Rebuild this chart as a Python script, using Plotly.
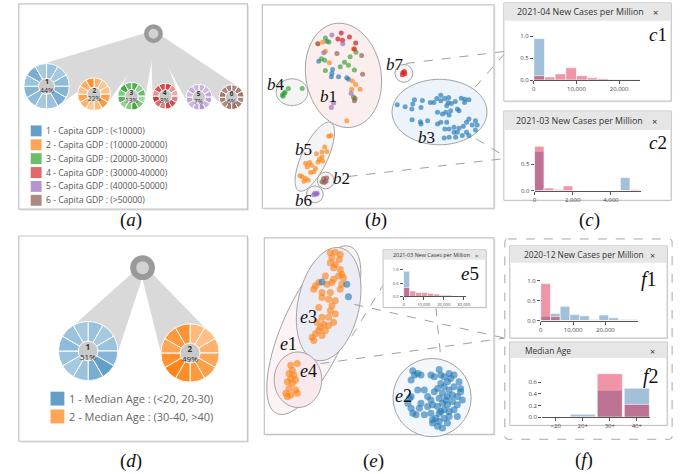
import math
import plotly.graph_objects as go

W, H = 689, 474

# ====================== DATA ======================
# (a) capita GDP clusters
gdp_groups = ["1", "2", "3", "4", "5", "6"]
gdp_share = [44, 22, 13, 8, 7, 6]
gdp_legend = ["1 - Capita GDP : (<10000)", "2 - Capita GDP : (10000-20000)",
              "3 - Capita GDP : (20000-30000)", "4 - Capita GDP : (30000-40000)",
              "5 - Capita GDP : (40000-50000)", "6 - Capita GDP : (>50000)"]
# (d) median age clusters
age_groups = ["1", "2"]
age_share = [51, 49]
age_legend = ["1 - Median Age : (<20, 20-30)", "2 - Median Age : (30-40, >40)"]

# (c1) histogram
c1_title = "2021-04 New Cases per Million"
c1_bin_width = 2500
c1_bin_starts = [0, 2500, 5000, 7500, 10000, 12500, 15000, 17500, 20000, 22500]
c1_blue = [0.95, 0.01, 0, 0, 0, 0, 0, 0, 0, 0]
c1_pink = [0.10, 0.07, 0.14, 0.28, 0.10, 0.05, 0.03, 0.01, 0.01, 0.01]
c1_xticks = [0, 10000, 20000]
c1_yticks = [0.0, 0.5, 1.0]

# (c2) histogram
c2_title = "2021-03 New Cases per Million"
c2_bin_width = 500
c2_bin_starts = [0, 500, 1000, 1500, 2000, 2500, 3000, 3500, 4000, 4500, 5000]
c2_blue = [0.74, 0, 0, 0, 0, 0, 0, 0, 0, 0.25, 0]
c2_pink = [0.84, 0.05, 0.02, 0.09, 0, 0, 0, 0, 0, 0, 0.02]
c2_xticks = [0, 2000, 4000]
c2_yticks = [0.0, 0.5]

# (e5) inset histogram
e5_title = "2021-03 New Cases per Million"
e5_bin_width = 3000
e5_bin_starts = [0, 3000, 6000, 9000, 12000, 15000, 18000, 21000, 24000, 27000]
e5_blue = [0.95, 0, 0, 0, 0, 0, 0, 0, 0, 0]
e5_pink = [0.34, 0.21, 0.15, 0.15, 0.12, 0.09, 0.05, 0.05, 0.02, 0.02]
e5_xticks = [0, 10000, 20000, 30000]
e5_yticks = [0.0, 0.5, 1.0]

# (f1) histogram
f1_title = "2020-12 New Cases per Million"
f1_bin_width = 3000
f1_bin_starts = [0, 3000, 6000, 9000, 12000, 15000, 18000, 21000, 24000, 27000]
f1_blue = [0.10, 0.18, 0.36, 0.15, 0.12, 0.03, 0.14, 0.07, 0.03, 0.03]
f1_pink = [0.93, 0.10, 0, 0, 0, 0, 0, 0, 0, 0]
f1_xticks = [0, 10000, 20000]
f1_yticks = [0.0, 0.5, 1.0]

# (f2) median age histogram
f2_title = "Median Age"
f2_categories = ["<20", "20+", "30+", "40+"]
f2_blue = [0, 0.05, 0.46, 0.50]
f2_pink = [0, 0, 0.75, 0.22]
f2_yticks = [0.0, 0.2, 0.4, 0.6]

# (b) embedding points (projection coordinates)
b_red = [(342.7, 33.3), (351.0, 37.3), (339.3, 39.3), (344.0, 40.7), (357.3, 43.3), (356.0, 49.3),
         (405.0, 73.0), (407.0, 74.5), (404.5, 75.5), (406.5, 72.0)]
b_purple = [(333.3, 35.3), (344.3, 44.0), (325.0, 53.3), (352.7, 94.0), (335.0, 104.0), (332.7, 108.3),
            (316.0, 195.0), (317.7, 196.0), (315.0, 196.3), (318.5, 195.0)]
b_green = [(326.7, 38.3), (330.3, 42.3), (357.7, 52.7), (351.7, 57.3), (322.7, 59.3), (326.0, 60.7),
           (346.0, 62.7), (350.0, 65.7), (341.7, 67.3), (326.7, 71.0), (356.0, 70.7), (355.0, 97.7),
           (283.3, 95.7), (285.0, 94.0), (286.0, 93.0), (289.3, 89.3), (303.3, 89.3), (284.0, 97.0)]
b_orange = [(324.0, 42.7), (319.3, 44.0), (326.7, 51.7), (330.7, 63.3), (354.0, 81.7), (357.3, 85.3),
            (353.3, 90.0), (361.7, 90.0), (348.3, 121.7), (355.0, 49.3),
            (330.0, 137.3), (332.3, 136.7), (326.0, 148.3), (328.3, 152.7), (323.3, 153.3),
            (317.7, 155.0), (320.7, 160.7), (324.0, 162.7), (319.3, 163.3), (306.7, 165.0),
            (310.7, 164.0), (312.7, 166.7), (308.3, 168.3), (315.0, 173.3), (311.7, 174.0),
            (303.3, 178.3), (306.7, 180.0), (305.0, 182.7), (301.0, 177.3), (309.3, 181.7),
            (316.7, 170.0), (323.3, 158.3)]
b_brown = [(319.0, 44.0), (338.3, 54.0), (363.3, 56.0), (364.3, 75.0), (356.7, 99.3), (356.0, 101.7),
           (325.0, 180.0), (327.3, 182.7), (323.3, 183.3), (328.0, 179.5), (325.5, 184.0)]
b_blue = [(328.3, 41.7), (320.0, 61.7), (334.0, 70.0), (333.3, 74.0), (332.7, 77.3), (340.0, 77.3),
          (348.3, 78.3), (350.0, 80.0),
          (399.3, 105.7), (407.3, 107.7), (415.0, 105.0), (416.7, 100.7), (424.7, 101.3), (414.0, 110.0),
          (423.3, 108.3), (432.7, 103.3), (436.3, 103.3), (439.3, 99.3), (443.3, 96.0), (447.3, 99.3),
          (451.3, 98.3), (443.3, 101.7), (450.7, 103.3), (449.3, 106.7), (454.0, 104.3), (458.0, 102.3),
          (464.0, 99.0), (467.7, 100.0), (471.7, 100.7), (467.3, 103.3), (460.0, 110.0), (440.0, 113.3),
          (445.0, 115.0), (448.3, 113.3), (451.7, 116.0), (453.3, 111.7), (461.7, 111.7), (414.3, 120.7),
          (422.7, 122.7), (430.0, 121.7), (423.3, 125.0), (443.3, 123.3), (449.3, 123.3), (447.3, 130.0),
          (451.7, 130.0), (456.7, 128.3), (456.7, 133.3), (461.7, 129.3), (466.0, 127.3), (469.3, 123.3),
          (471.7, 120.0), (475.0, 126.0), (478.3, 121.7), (480.0, 126.0), (478.3, 131.0), (469.3, 133.3),
          (465.0, 136.7), (458.3, 138.3), (451.7, 138.3), (446.7, 139.3), (440.0, 125.0), (471.7, 136.7),
          (460.0, 133.3)]

# (e) embedding points
e_orange = [(331.7, 255.0), (336.7, 254.3), (341.7, 256.7), (333.3, 260.0), (340.7, 261.7), (331.7, 265.0),
            (336.7, 266.7), (335.0, 270.0), (341.7, 271.7), (343.3, 276.7), (345.0, 280.0), (340.0, 278.3),
            (326.7, 278.3), (335.0, 281.7), (333.3, 285.0), (328.3, 286.7), (316.7, 288.3), (320.0, 285.0),
            (315.0, 291.7), (323.3, 295.0), (331.7, 295.0), (341.7, 291.7), (343.3, 286.7), (323.3, 300.0),
            (330.0, 301.7), (336.7, 303.3), (333.3, 308.3), (320.0, 310.0), (331.7, 313.3), (336.7, 316.7),
            (323.3, 320.0), (330.0, 320.0), (318.3, 325.0), (325.0, 326.7), (321.7, 330.0), (330.0, 328.3),
            (335.0, 325.0), (320.0, 333.3), (326.7, 333.3), (316.7, 336.7), (313.3, 340.0), (323.3, 338.3),
            (315.0, 343.3),
            (291.7, 368.3), (298.3, 366.7), (293.3, 373.3), (290.0, 376.7), (295.0, 378.3), (291.7, 381.7),
            (296.7, 383.3), (288.3, 385.0), (293.3, 386.7), (290.0, 391.7), (296.7, 393.3), (286.7, 396.7),
            (291.7, 398.3), (298.3, 396.7), (288.3, 400.0)]
e_blue = [(323.3, 284.3), (348.3, 286.7), (350.0, 299.3),
          (415.0, 374.0), (416.7, 378.3), (420.0, 376.7), (423.3, 378.3), (413.3, 383.3), (433.3, 378.3),
          (436.7, 380.0), (441.7, 372.7), (443.3, 378.3), (446.7, 380.0), (451.7, 376.7), (453.3, 381.7),
          (456.7, 378.3), (450.0, 385.0), (443.3, 386.7), (440.0, 391.7), (446.7, 390.0), (451.7, 393.3),
          (456.7, 390.0), (461.7, 385.0), (463.3, 395.0), (460.0, 400.0), (455.0, 398.3), (450.0, 400.0),
          (445.0, 396.7), (441.7, 401.7), (436.7, 395.0), (433.3, 403.3), (430.0, 400.0), (426.7, 393.3),
          (420.0, 393.3), (411.7, 401.7), (410.0, 406.7), (413.3, 411.7), (415.0, 416.7), (418.3, 418.3),
          (421.7, 411.7), (423.3, 406.7), (430.0, 410.0), (435.0, 408.3), (440.0, 410.0), (445.0, 406.7),
          (450.0, 408.3), (455.0, 405.0), (460.0, 408.3), (465.0, 403.3), (456.7, 413.3), (451.7, 415.0),
          (446.7, 413.3), (441.7, 416.7), (438.3, 421.7), (435.0, 423.3), (441.7, 425.0), (446.7, 421.7),
          (450.0, 426.7), (445.0, 431.7), (440.0, 430.0), (435.0, 426.7), (413.3, 400.0), (463.3, 391.7),
          (448.3, 403.3), (443.3, 415.0), (433.3, 416.7), (426.7, 418.3), (460.0, 420.0), (451.7, 420.0)]

# ====================== STYLE ======================
UI = "Open Sans"
SERIF = "Liberation Serif"
CAT = [(31, 119, 180), (255, 127, 14), (44, 160, 44), (214, 39, 40), (148, 103, 189), (140, 86, 75)]
BLUE_BAR = "rgba(70,130,180,0.5)"
PINK_BAR = "rgba(220,20,60,0.45)"

A_SHADES = [
    [0.45, 0.40, 0.50, 0.55, 0.60, 0.45, 0.40, 0.50, 0.55, 0.45, 0.60, 0.40],
    [0.60, 0.45, 0.50, 0.75, 0.80, 0.55, 0.45, 0.60, 0.70, 0.50, 0.65, 0.85],
    [0.85, 0.50, 0.70, 0.45, 0.60, 0.90, 0.55, 0.50, 0.80, 0.60, 0.90, 0.70],
    [0.90, 0.50, 0.40, 0.60, 0.85, 0.90, 0.60, 0.70, 0.95, 0.50, 0.80, 0.85],
    [0.50, 0.45, 0.55, 0.60, 0.50, 0.70, 0.55, 0.50, 0.60, 0.45, 0.55, 0.50],
    [0.70, 0.75, 0.80, 0.70, 0.75, 0.85, 0.80, 0.70, 0.75, 0.80, 0.70, 0.75],
]
D_SHADES = [
    [0.45, 0.40, 0.45, 0.55, 0.70, 0.60, 0.45, 0.40, 0.45, 0.50, 0.45, 0.40],
    [0.55, 0.50, 0.60, 0.70, 0.75, 0.80, 0.90, 0.95, 0.85, 0.70, 0.80, 0.85],
]
# layout geometry (pixels)
A_ROOT = (153, 34)
A_PIES = [(45, 87, 23, 0.35), (93, 95, 16.5, 0.42), (131, 97, 14, 0.48),
          (165, 97, 13, 0.5), (199, 98, 13, 0.5), (232, 98, 12.5, 0.5)]
D_ROOT = (142, 270)
D_PIES = [(87, 354, 30, 0.33), (190, 356, 29.5, 0.34)]


def blend(rgb, a):
    return "rgb(%d,%d,%d)" % tuple(round(255 - a * (255 - c)) for c in rgb)


def rgba(rgb, a):
    return "rgba(%d,%d,%d,%s)" % (rgb[0], rgb[1], rgb[2], a)


fig = go.Figure()
shapes = []
annos = []


def rect(x0, y0, x1, y1, fill, line="rgba(0,0,0,0)", lw=1, dash=None):
    shapes.append(dict(type="rect", xref="x", yref="y", x0=x0, y0=y0, x1=x1, y1=y1,
                       fillcolor=fill, line=dict(color=line, width=lw, dash=dash), layer="below"))


def circ(cx, cy, r, fill, line="rgba(0,0,0,0)", lw=1):
    shapes.append(dict(type="circle", xref="x", yref="y", x0=cx - r, y0=cy - r, x1=cx + r, y1=cy + r,
                       fillcolor=fill, line=dict(color=line, width=lw), layer="below"))


def poly(pts, fill, line="rgba(0,0,0,0)", lw=1):
    p = "M " + " L ".join("%.2f,%.2f" % q for q in pts) + " Z"
    shapes.append(dict(type="path", xref="x", yref="y", path=p, fillcolor=fill,
                       line=dict(color=line, width=lw), layer="below"))


def ellipse(cx, cy, a, b, ang, fill, line="#a3a3a3"):
    t = math.radians(ang)
    pts = []
    for i in range(72):
        u = 2 * math.pi * i / 72
        x = cx + a * math.cos(u) * math.cos(t) - b * math.sin(u) * math.sin(t)
        y = cy + a * math.cos(u) * math.sin(t) + b * math.sin(u) * math.cos(t)
        pts.append((x, y))
    poly(pts, fill, line, 1)


def dline(x0, y0, x1, y1):
    shapes.append(dict(type="line", xref="x", yref="y", x0=x0, y0=y0, x1=x1, y1=y1,
                       line=dict(color="#a0a0a0", width=1, dash="dash"), layer="below"))


def txt(x, y, s, size, color="#333", family=UI, xanchor="center", yanchor="middle"):
    annos.append(dict(x=x, y=y, xref="x", yref="y", text=s, showarrow=False,
                      font=dict(size=size, color=color, family=family),
                      xanchor=xanchor, yanchor=yanchor, borderpad=0))


def label(x, y, letter, num, size):
    txt(x, y, "<i>%s</i>%s" % (letter, num), size, "#111", SERIF)


def frame(x0, y0, x1, y1):
    rect(x0 + 1.5, y0 + 1.5, x1 + 1.5, y1 + 1.5, "#e6e6e6")
    rect(x0, y0, x1, y1, "white", "#c4c4c4", 1.2)


def hist_box(x0, y0, x1, y1, ybar, title, tsize, title_x, close_x):
    rect(x0 + 1, y0 + 1, x1 + 1, y1 + 1, "#e9e9e9")
    rect(x0, y0, x1, y1, "white", "#bdbdbd", 1)
    rect(x0 + 0.6, y0 + 0.6, x1 - 0.6, ybar, "#e6e6e6")
    txt(title_x, (y0 + ybar) / 2, title, tsize, "#333", UI, xanchor="left")
    txt(close_x, (y0 + ybar) / 2 + 1, "×", tsize + 0.5, "#333")


# ---------- panel frames ----------
frame(17, 4, 248, 211)
frame(263, 5, 497, 210)
frame(17, 238, 248, 445)
frame(265, 240, 497, 438)
shapes.append(dict(type="path", xref="x", yref="y",
                   path="M 511,241 L 674,241 Q 677,241 677,244 L 677,440 Q 677,443 674,443 "
                        "L 511,443 Q 508,443 508,440 L 508,244 Q 508,241 511,241 Z",
                   fillcolor="white", line=dict(color="#a8a8a8", width=1, dash="dash"), layer="below"))

# ---------- histogram boxes ----------
hist_box(507, 3, 676, 102, 21, c1_title, 8.9, 519, 660)
hist_box(507, 112, 676, 202, 131, c2_title, 8.9, 518, 659)
hist_box(513, 248, 672, 341, 265, f1_title, 8.4, 526, 657)
hist_box(513, 345, 672, 429, 361, f2_title, 8.4, 527, 657)

# ---------- panel (b) clusters ----------
ellipse(345, 76, 53, 38, 80, "#fbeeee")
ellipse(293, 93, 16, 13.5, 0, "#f4f4f4")
ellipse(442, 113, 48, 33, 0, "#edf3fb")
ellipse(316, 158, 38, 13, -65, "#f4f4f4")
circ(406, 74, 9, "#f6f6f6", "#a3a3a3")
circ(327, 182, 8.5, "#f6f0f0", "#a3a3a3")
circ(316, 196, 8.5, "#f4f4f4", "#a3a3a3")
dline(408, 64, 507, 52)
dline(478, 88, 507, 55)
dline(350, 178, 507, 160)
dline(479, 140, 507, 157)

# ---------- panel (e) clusters ----------
ellipse(315, 333, 92, 32, -66, "#fcf4f4")
ellipse(330, 306.7, 58, 31, -78, "#ececf5")
ellipse(299, 383, 28, 24, -90, "#f9e8ec")
circ(434.5, 401, 39.5, "#f2f7fc", "#a3a3a3")
dline(356, 307, 508, 341)
dline(321.7, 366.7, 508, 341)
dline(386.7, 285, 351.7, 341.7)
dline(438.3, 310, 443.3, 361)
hist_box(385, 252, 489, 310, 262, e5_title, 5.4, 394, 479)

# ---------- sunburst-like rings (a), (d) ----------
def beams(root, pies):
    rx, ry = root
    for (cx, cy, r, hole) in pies:
        dx, dy = cx - rx, cy - ry
        L = math.hypot(dx, dy)
        nx, ny = -dy / L, dx / L
        poly([(rx + nx * 3, ry + ny * 3), (cx + nx * r, cy + ny * r),
              (cx - nx * r, cy - ny * r), (rx - nx * 3, ry - ny * 3)], "#d9d9d9")


beams(A_ROOT, A_PIES)
beams(D_ROOT, D_PIES)
circ(A_ROOT[0], A_ROOT[1], 9.5, "#9a9a9a")
circ(A_ROOT[0], A_ROOT[1], 5, "#d2d2d2")
circ(D_ROOT[0], D_ROOT[1], 12.5, "#9a9a9a")
circ(D_ROOT[0], D_ROOT[1], 6.5, "#d2d2d2")


def add_ring(cx, cy, r, hole, rgb, shades, name, share, fs):
    circ(cx, cy, r * hole + 0.5, "#c9c9c9")
    fig.add_trace(go.Pie(values=[1] * len(shades), sort=False, direction="clockwise", rotation=0,
                         hole=hole, textinfo="none", hoverinfo="skip", showlegend=False,
                         marker=dict(colors=[blend(rgb, s) for s in shades],
                                     line=dict(color="white", width=1)),
                         domain=dict(x=[(cx - r) / W, (cx + r) / W],
                                     y=[1 - (cy + r) / H, 1 - (cy - r) / H])))
    txt(cx, cy, "<b>%s</b><br>%d%%" % (name, share), fs, "#333")


for i, (cx, cy, r, hole) in enumerate(A_PIES):
    add_ring(cx, cy, r, hole, CAT[i], A_SHADES[i], gdp_groups[i], gdp_share[i], 6.5 if i else 7)
for i, (cx, cy, r, hole) in enumerate(D_PIES):
    add_ring(cx, cy, r, hole, CAT[i], D_SHADES[i], age_groups[i], age_share[i], 8)

# legends
for i, s in enumerate(gdp_legend):
    y = 132 + 14 * i
    rect(29, y - 5.5, 40, y + 5.5, blend(CAT[i], 0.7))
    txt(43.5, y, s, 8.6, "#555", UI, xanchor="left")
for i, s in enumerate(age_legend):
    y = 402 + 18 * i
    rect(49, y - 7, 63, y + 7, blend(CAT[i], 0.7))
    txt(67, y, s, 11, "#666", UI, xanchor="left")

# ---------- scatter points ----------
def pts(group, rgb, size, alpha):
    fig.add_trace(go.Scatter(x=[p[0] for p in group], y=[p[1] for p in group], mode="markers",
                             marker=dict(size=size, color=rgba(rgb, alpha), line=dict(width=0)),
                             hoverinfo="skip", showlegend=False, xaxis="x", yaxis="y"))


pts(b_blue, CAT[0], 5, 0.65)
pts(b_orange, CAT[1], 5, 0.65)
pts(b_green, CAT[2], 5, 0.65)
pts(b_red, CAT[3], 5, 0.75)
pts(b_purple, CAT[4], 5, 0.65)
pts(b_brown, CAT[5], 5, 0.65)
pts(e_orange, CAT[1], 7, 0.6)
pts(e_blue, CAT[0], 7, 0.6)

# ---------- histograms ----------
layout_axes = {}


def add_hist(idx, xpx, ypx, xr, yr, xs, width, blue, pink, xticks, yticks, fs,
             ticktext=None):
    xa, ya = "x%d" % idx, "y%d" % idx
    fig.add_trace(go.Bar(x=xs, y=blue, width=width, xaxis=xa, yaxis=ya, hoverinfo="skip",
                         showlegend=False, marker=dict(color=BLUE_BAR, line=dict(color="white", width=0.6))))
    fig.add_trace(go.Bar(x=xs, y=pink, width=width, xaxis=xa, yaxis=ya, hoverinfo="skip",
                         showlegend=False, marker=dict(color=PINK_BAR, line=dict(color="white", width=0.6))))
    xd = dict(domain=[xpx[0] / W, xpx[1] / W], range=xr, anchor=ya, showgrid=False, zeroline=False,
              showline=True, linecolor="#555", linewidth=1, ticks="outside", ticklen=3,
              tickcolor="#555", tickvals=xticks, tickfont=dict(size=fs, color="#444", family=UI),
              fixedrange=True, tickformat=",d")
    if ticktext is not None:
        xd["ticktext"] = ticktext
    yd = dict(domain=[1 - ypx[1] / H, 1 - ypx[0] / H], range=yr, anchor=xa, showgrid=False,
              zeroline=False, showline=False, ticks="outside", ticklen=3, tickcolor="#555",
              tickvals=yticks, tickformat=".1f", tickfont=dict(size=fs, color="#444", family=UI),
              fixedrange=True)
    layout_axes["xaxis%d" % idx] = xd
    layout_axes["yaxis%d" % idx] = yd


def centers(starts, w):
    return [s + w / 2 for s in starts]


add_hist(2, (537.3, 645), (25, 80.7), [0, 25000], [0, 1.266],
         centers(c1_bin_starts, c1_bin_width), c1_bin_width, c1_blue, c1_pink, c1_xticks, c1_yticks, 6)
add_hist(3, (538, 646), (137, 192.3), [0, 5600], [0, 1.037],
         centers(c2_bin_starts, c2_bin_width), c2_bin_width, c2_blue, c2_pink, c2_xticks, c2_yticks, 6)
add_hist(4, (405.7, 468.6), (264, 299), [0, 31000], [0, 1.31],
         centers(e5_bin_starts, e5_bin_width), e5_bin_width, e5_blue, e5_pink, e5_xticks, e5_yticks, 4.2)
add_hist(5, (544.3, 642.3), (268, 323.3), [0, 30000], [0, 1.38],
         centers(f1_bin_starts, f1_bin_width), f1_bin_width, f1_blue, f1_pink, f1_xticks, f1_yticks, 6)
add_hist(6, (545.7, 655), (364, 420.7), [-0.5, 3.5], [0, 0.97],
         list(range(len(f2_categories))), 0.93, f2_blue, f2_pink,
         list(range(len(f2_categories))), f2_yticks, 6, ticktext=f2_categories)

# ---------- italic serif labels ----------
label(329.5, 97, "b", "1", 17)
label(396.7, 65.5, "b", "7", 17)
label(277.2, 85.5, "b", "4", 17)
label(428.7, 138.5, "b", "3", 17)
label(304.5, 151, "b", "5", 17)
label(342.8, 180, "b", "2", 17)
label(304.2, 202, "b", "6", 17)
label(663, 35, "c", "1", 19)
label(663, 144, "c", "2", 19)
label(289.2, 346.5, "e", "1", 18)
label(310, 319.5, "e", "3", 18)
label(310, 374.5, "e", "4", 18)
label(405.8, 399.5, "e", "2", 18)
label(472.8, 276, "e", "5", 19)
label(654, 282, "f", "1", 20)
label(656, 380, "f", "2", 20)

for (x, y, l) in [(130, 222, "a"), (377.5, 222, "b"), (594, 222, "c"),
                  (130, 464.5, "d"), (375, 465, "e"), (588.3, 464, "f")]:
    txt(x, y, "(<i>%s</i>)" % l, 19, "#111", SERIF)

fig.update_layout(
    width=W, height=H, margin=dict(l=0, r=0, t=0, b=0),
    paper_bgcolor="white", plot_bgcolor="rgba(0,0,0,0)",
    barmode="overlay", showlegend=False,
    xaxis=dict(domain=[0, 1], range=[0, W], visible=False, fixedrange=True),
    yaxis=dict(domain=[0, 1], range=[H, 0], visible=False, fixedrange=True),
    shapes=shapes, annotations=annos, **layout_axes,
)

fig.write_html("out.html", config={"displayModeBar": False, "staticPlot": True},
               post_script="document.body.style.margin='0';")
